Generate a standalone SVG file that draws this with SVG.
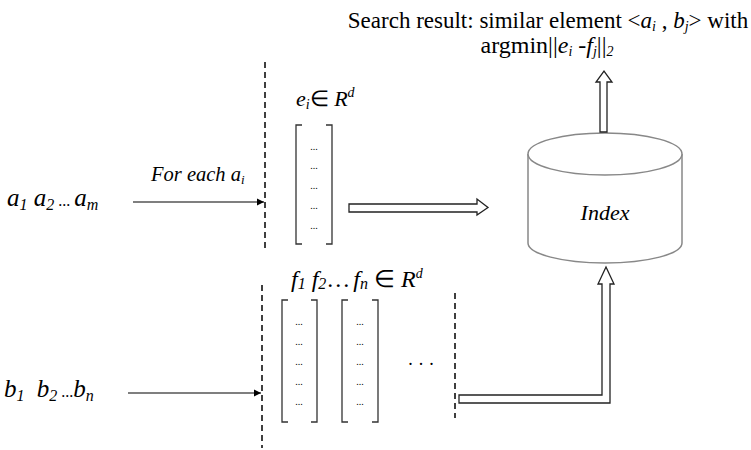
<svg xmlns="http://www.w3.org/2000/svg" width="751" height="450" viewBox="0 0 751 450" font-family="Liberation Serif">
<style>
.dash{stroke:#000;stroke-width:1.5;stroke-dasharray:6,4;fill:none}
.brk{stroke:#333;stroke-width:1.3;fill:none}
.hollow{fill:#fff;stroke:#222;stroke-width:1.3}
.line{stroke:#000;stroke-width:1.2;fill:none}
</style>
<defs>
<marker id="ah" markerWidth="8" markerHeight="8" refX="7" refY="4" orient="auto" markerUnits="userSpaceOnUse">
<path d="M0,0.5 L7,4 L0,7.5 z" fill="#000"/>
</marker>
</defs>

<g id="result">
<text x="548" y="28" font-size="23" font-family="Liberation Serif" text-anchor="middle">Search result: similar element &lt;<tspan font-style="italic">a</tspan><tspan font-style="italic" font-size="14" dy="3">i</tspan><tspan dy="-3"> , </tspan><tspan font-style="italic">b</tspan><tspan font-style="italic" font-size="14" dy="3">j</tspan><tspan dy="-3">&gt; with</tspan></text>
<text x="547" y="53" font-size="24" font-family="Liberation Serif" text-anchor="middle">argmin||<tspan font-style="italic">e</tspan><tspan font-style="italic" font-size="14" dy="3">i</tspan><tspan dy="-3"> -</tspan><tspan font-style="italic">f</tspan><tspan font-style="italic" font-size="14" dy="3">j</tspan><tspan dy="-3">||</tspan><tspan font-style="italic" font-size="14" dy="3">2</tspan></text>
</g>

<g id="input-a">
<text x="7" y="206" font-size="25" font-family="Liberation Serif" font-style="italic">a<tspan font-size="16" dy="4">1</tspan><tspan dy="-4"> a</tspan><tspan font-size="16" dy="4">2</tspan><tspan dy="-4" font-size="16" font-style="normal"> ... </tspan><tspan>a</tspan><tspan font-size="16" dy="4">m</tspan></text>
</g>

<g id="input-b">
<text x="4" y="397" font-size="25" font-family="Liberation Serif" font-style="italic">b<tspan font-size="16" dy="4">1</tspan><tspan dy="-4" dx="6"> b</tspan><tspan font-size="16" dy="4">2</tspan><tspan dy="-4" font-size="16" font-style="normal"> ...</tspan><tspan>b</tspan><tspan font-size="16" dy="4">n</tspan></text>
</g>

<g id="foreach-label">
<text x="151" y="181" font-size="20.5" font-family="Liberation Serif" font-style="italic">For each a<tspan font-size="13" dy="3">i</tspan></text>
</g>

<g id="dividers">
<line id="divider-1" class="dash" x1="265" y1="62" x2="265" y2="248"/>
<line id="divider-2" class="dash" x1="262" y1="285" x2="262" y2="448"/>
<line id="divider-3" class="dash" x1="455" y1="293" x2="455" y2="418"/>
</g>

<g id="vector-e">
<text x="296" y="106" font-size="22" font-family="Liberation Serif" font-style="italic">e<tspan font-size="14" dy="3">i</tspan><tspan dy="-3" font-style="normal">∈ </tspan>R<tspan font-size="14" dy="-9">d</tspan></text>
<path class="brk" d="M302,125 H296 V244 H302 M326,125 H332 V244 H326"/>
<g font-size="10" font-family="Liberation Serif" text-anchor="middle">
<text x="314" y="150">...</text><text x="314" y="169">...</text><text x="314" y="189">...</text><text x="314" y="209">...</text><text x="314" y="229">...</text>
</g>
</g>

<g id="vectors-f">
<text x="291" y="287" font-size="24" font-family="Liberation Serif" font-style="italic">f<tspan font-size="16" dy="2">1</tspan><tspan dy="-2"> f</tspan><tspan font-size="16" dy="2">2</tspan><tspan dy="-2" font-style="normal">…</tspan><tspan dx="3">f</tspan><tspan font-size="16" dy="2">n</tspan><tspan dy="-2" font-style="normal"> ∈ </tspan>R<tspan font-size="14" dy="-9">d</tspan></text>
<path class="brk" d="M288,300 H282 V422 H288 M311,300 H317 V422 H311 M348,300 H342 V422 H348 M372,300 H378 V422 H372"/>
<g font-size="10" font-family="Liberation Serif" text-anchor="middle">
<text x="299" y="325">...</text><text x="299" y="345">...</text><text x="299" y="365">...</text><text x="299" y="385">...</text><text x="299" y="405">...</text>
<text x="360" y="325">...</text><text x="360" y="345">...</text><text x="360" y="365">...</text><text x="360" y="385">...</text><text x="360" y="405">...</text>
</g>
<text x="421" y="370" font-size="18" font-family="Liberation Serif" text-anchor="middle">· · ·</text>
</g>

<g id="index">
<path d="M528,154 V243 A77,20 0 0 0 682,243 V154" fill="#fff" stroke="#888" stroke-width="1.5"/>
<ellipse cx="605" cy="154" rx="77" ry="21" fill="#fff" stroke="#888" stroke-width="1.5"/>
<text x="605" y="220" font-size="22" font-family="Liberation Serif" font-style="italic" text-anchor="middle">Index</text>
</g>

<g id="connectors">
<line class="line" x1="133" y1="202" x2="264" y2="202" marker-end="url(#ah)"/>
<line class="line" x1="128" y1="393" x2="261" y2="393" marker-end="url(#ah)"/>
<path class="hollow" d="M349,204 H477 V199 L488,207.5 L477,215 V212 H349 Z"/>
<path class="hollow" d="M600,132 V82 H596 L604,71 L612,82 H607 V132 Z"/>
<path class="hollow" d="M459,403 H610 V284 H614 L606,267 L598,284 H602 V395 H459 Z"/>
</g>
</svg>
